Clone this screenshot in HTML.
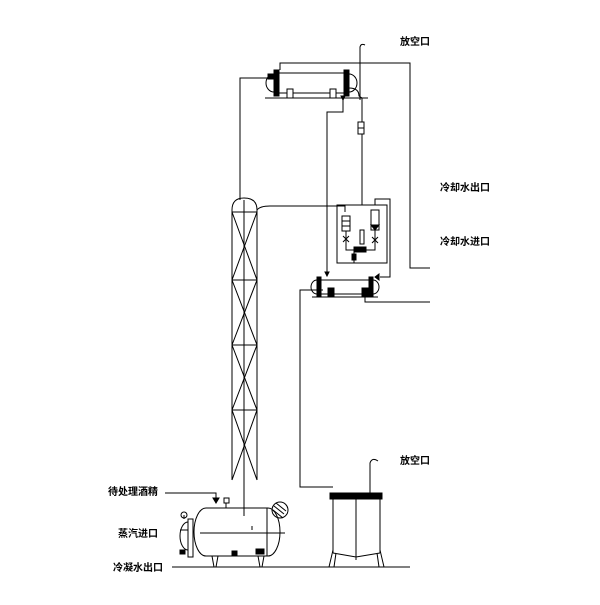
<!DOCTYPE html><html><head><style>body{margin:0;background:#fff}text{font-family:"Liberation Sans","Noto Sans CJK SC",sans-serif;font-size:10px;fill:#000;font-weight:bold}</style></head><body>
<svg width="600" height="600" viewBox="0 0 600 600" xmlns="http://www.w3.org/2000/svg" fill="none" stroke="#000" stroke-width="1">
<text x="400" y="45" stroke="none">放空口</text>
<text x="440" y="191" stroke="none">冷却水出口</text>
<text x="440" y="245" stroke="none">冷却水进口</text>
<text x="400" y="464" stroke="none">放空口</text>
<text x="108" y="495" stroke="none">待处理酒精</text>
<text x="118" y="537" stroke="none">蒸汽进口</text>
<text x="113" y="571" stroke="none">冷凝水出口</text>
<!-- top condenser -->
<rect x="277" y="73" width="70" height="20"/>
<rect x="274" y="70" width="5" height="26" fill="#000"/>
<rect x="344" y="70" width="5" height="26" fill="#000"/>
<path d="M274 74 a8 9 0 0 0 0 18 M349 74 a8 9 0 0 1 0 18"/>
<line x1="265" y1="98" x2="368" y2="98"/>
<rect x="287" y="89" width="6" height="9" fill="#fff"/><rect x="330" y="89" width="6" height="9" fill="#fff"/>
<rect x="268" y="74" width="5" height="5" fill="#000"/>
<path d="M280 70 V63 H410 V268 H430"/>
<path d="M240 200 V78 H268"/>
<path d="M360 100 V47 q1 -4 5 -2 M349 88 q10 0 10 8 L362 98 V205"/>
<rect x="358" y="122" width="6" height="12" fill="#fff"/><line x1="358" y1="128" x2="364" y2="128"/>
<path d="M343 96 V112 H327 V272"/>
<path d="M341 96 l4 0 l-2 4z" fill="#000"/>
<!-- column -->
<path d="M232 480 V210 q0 -12 12 -12 q13 0 13 12 V480"/>
<path d="M232 212 L257 212 M232 280 L257 280 M232 345 L257 345 M232 410 L257 410 M232 212 L257 280 L232 345 L257 410 L232 480 M257 212 L232 280 L257 345 L232 410 L257 480"/>
<line x1="244" y1="200" x2="244" y2="516"/>
<path d="M257 210 Q260 206 270 206 H345 V212"/>
<!-- receiver box -->
<rect x="337" y="205" width="50" height="58"/>
<path d="M375 205 V199 H390 V277 H380"/>
<rect x="342" y="216" width="8" height="15" fill="#fff"/><line x1="342" y1="221" x2="350" y2="221"/><line x1="342" y1="226" x2="350" y2="226"/>
<path d="M346 231 V250 H355 M343 236 l6 6 M349 236 l-6 6"/>
<rect x="371" y="210" width="8" height="20" fill="#fff"/><path d="M371 225 h8 l-4 5z" fill="#000"/>
<path d="M375 230 V250 H362 M372 237 l6 6 M378 237 l-6 6"/>
<rect x="360" y="230" width="4" height="14" fill="#fff"/>
<rect x="354" y="247" width="12" height="5" fill="#000"/>
<path d="M354 252 V263"/><rect x="352" y="254" width="4" height="6" fill="#000"/>
<!-- lower cooler -->
<rect x="320" y="280" width="52" height="14"/>
<rect x="317" y="277" width="4" height="20" fill="#000"/><rect x="369" y="277" width="4" height="20" fill="#000"/>
<path d="M317 280 a6 7 0 0 0 0 14 M373 280 a6 7 0 0 1 0 14"/>
<line x1="312" y1="297" x2="378" y2="297"/>
<rect x="328" y="288" width="6" height="8" fill="#000"/><rect x="362" y="288" width="6" height="8" fill="#000"/>
<path d="M325 272 l4 0 l-2 4z M375 277 l4 -3 v6z" fill="#000"/>
<path d="M323 290 H300 V487 H333"/>
<path d="M365 297 V302 H430"/>
<!-- receiver tank -->
<rect x="330" y="493" width="52" height="6" fill="#000"/>
<path d="M333 499 V553 M380 499 V553 M333 553 L356 557 L380 553 M356 493 V560 M333 550 L329 567 M336 553 L334 567 M377 553 L379 567 M380 550 L384 567"/>
<path d="M370 493 V463 q2 -6 8 -2"/>
<!-- boiler -->
<path d="M206 508 H268 a12 24 0 0 1 0 48 H206 a12 24 0 0 1 0 -48z"/>
<path d="M200 533 H285 M267 508 V556 M252 526 V530 M244 516 V505"/>
<circle cx="280" cy="510" r="8"/><path d="M274 506 l10 8 M273 510 l10 8 M276 503 l10 8"/>
<rect x="188" y="519" width="5" height="38"/>
<path d="M188 522 a8 14 0 0 0 0 28 M180 530 H188 M184 519 v-4"/><circle cx="184" cy="515" r="3"/>
<rect x="180" y="550" width="5" height="4" fill="#000"/>
<rect x="232" y="551" width="5" height="5" fill="#000"/><rect x="256" y="549" width="8" height="5" fill="#000"/>
<path d="M212 556 L214 567 M218 556 L216 567 M258 556 L260 567 M264 556 L262 567"/>
<path d="M165 493 H216 V500"/><path d="M213 498 h6 l-3 5z" fill="#000"/>
<rect x="224" y="498" width="5" height="5"/><line x1="226" y1="503" x2="226" y2="508"/>
<line x1="172" y1="567" x2="410" y2="567"/>
</svg></body></html>
